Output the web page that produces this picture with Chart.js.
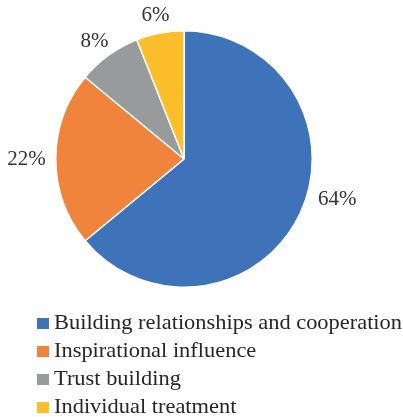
<!DOCTYPE html>
<html>
<head>
<meta charset="utf-8">
<script src="https://cdn.jsdelivr.net/npm/chart.js@4/dist/chart.umd.min.js"></script>
<style>
html,body{margin:0;padding:0;background:#fff;}
#wrap{position:relative;width:403px;height:417px;}
</style>
</head>
<body>
<div id="wrap"><canvas id="c" width="403" height="417"></canvas></div>
<script>
const categories = ["Building relationships and cooperation", "Inspirational influence", "Trust building", "Individual treatment"];
const shares = [64, 22, 8, 6];
const sliceColors = ["#3F73B9", "#F1843D", "#989B9C", "#FCBF2B"];

const FONT = "'Liberation Serif', 'Times New Roman', serif";

const outsideLabels = {
  id: 'outsideLabels',
  afterDatasetsDraw(chart) {
    const ctx = chart.ctx;
    const meta = chart.getDatasetMeta(0);
    const ds = chart.data.datasets[0];
    const o = chart.options.plugins.outsideLabels;
    ctx.save();
    ctx.font = "21px " + FONT;
    ctx.fillStyle = "#333333";
    ctx.textBaseline = "middle";
    ctx.textAlign = "center";
    meta.data.forEach((arc, i) => {
      const mid = (arc.startAngle + arc.endAngle) / 2;
      const a = mid + ((o.angleNudge || [])[i] || 0);
      const d = arc.outerRadius + 10 + ((o.distNudge || [])[i] || 0);
      const px = arc.x + Math.cos(a) * d;
      const py = arc.y + Math.sin(a) * d;
      const text = ds.data[i] + "%";
      const w = ctx.measureText(text).width;
      const h = 15;
      const cx = px + Math.cos(a) * w / 2;
      const cy = py + Math.sin(a) * h / 2;
      ctx.fillText(text, cx, cy);
    });
    ctx.restore();
  }
};

const listLegend = {
  id: 'listLegend',
  afterDraw(chart) {
    const ctx = chart.ctx;
    const o = chart.options.plugins.listLegend;
    ctx.save();
    ctx.font = "21px " + FONT;
    const natural = ctx.measureText(chart.data.labels[0]).width;
    const sx = o.maxWidth / natural;
    ctx.textBaseline = "alphabetic";
    ctx.textAlign = "left";
    chart.data.labels.forEach((lab, i) => {
      const y = o.top + i * o.rowHeight;
      ctx.fillStyle = chart.data.datasets[0].backgroundColor[i];
      ctx.fillRect(o.left, y - 5.5, 12, 11);
      ctx.fillStyle = "#262626";
      ctx.save();
      ctx.translate(o.left + 17, y + 5);
      ctx.scale(sx, 1);
      ctx.fillText(lab, 0, 0);
      ctx.restore();
    });
    ctx.restore();
  }
};

new Chart(document.getElementById('c'), {
  type: 'pie',
  data: {
    labels: categories,
    datasets: [{
      data: shares,
      backgroundColor: sliceColors,
      borderColor: "#ffffff",
      borderWidth: 1.5,
      hoverOffset: 0
    }]
  },
  options: {
    responsive: false,
    animation: false,
    layout: { padding: { left: 55, right: 90, top: 30, bottom: 129 } },
    plugins: {
      legend: { display: false },
      tooltip: { enabled: false },
      outsideLabels: { angleNudge: [-0.16, 0, 0, 0], distNudge: [2, 0, 0, 0] },
      listLegend: { left: 37, top: 323.5, rowHeight: 28, maxWidth: 348 }
    }
  },
  plugins: [outsideLabels, listLegend]
});
</script>
</body>
</html>
